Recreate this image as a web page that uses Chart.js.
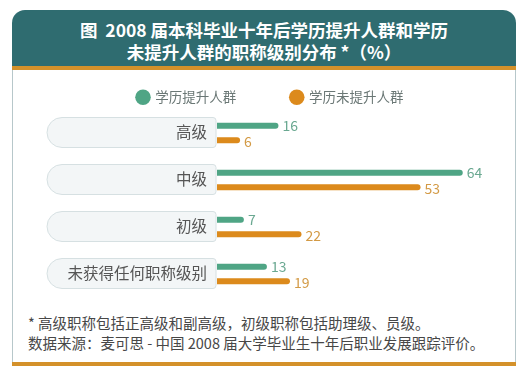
<!DOCTYPE html>
<html>
<head>
<meta charset="utf-8">
<script src="https://cdn.jsdelivr.net/npm/chart.js@4"></script>
<style>
  html,body{margin:0;padding:0;background:#ffffff;}
  body{width:529px;height:377px;position:relative;overflow:hidden;font-family:"Noto Sans CJK SC","Noto Sans",sans-serif;}
  .abs{position:absolute;}
  #hdr{left:12px;top:10px;width:504px;height:56px;background:#2f6c70;border-radius:13px 13px 0 0;}
  #hline{left:12px;top:66px;width:504px;height:4px;background:#d4912a;}
  #bodybox{left:12px;top:70px;width:502px;height:292px;border-left:1px solid #b7c7ca;border-right:1px solid #b7c7ca;}
  #bline{left:12px;top:362px;width:504px;height:4px;background:#d4912a;}
  .title{left:12px;width:504px;text-align:center;color:#ffffff;font-weight:bold;font-size:17.5px;line-height:22px;white-space:pre;}
  .note{left:28px;color:#474747;font-size:14.5px;line-height:20px;white-space:pre;}
  canvas{position:absolute;left:0;top:0;}
</style>
</head>
<body>
<div id="hdr" class="abs"></div>
<div id="hline" class="abs"></div>
<div id="bodybox" class="abs"></div>
<div id="bline" class="abs"></div>
<div class="abs title" style="top:19px;">图  2008 届本科毕业十年后学历提升人群和学历</div>
<div class="abs title" style="top:41px;">未提升人群的职称级别分布 *（%）</div>
<div class="abs note" style="top:313px;">* 高级职称包括正高级和副高级，初级职称包括助理级、员级。</div>
<div class="abs note" style="top:333px;">数据来源：麦可思 - 中国 2008 届大学毕业生十年后职业发展跟踪评价。</div>
<canvas id="c" width="529" height="377"></canvas>
<script>
const categories = ['高级', '中级', '初级', '未获得任何职称级别'];
const seriesNames = ['学历提升人群', '学历未提升人群'];
const improved = [16, 64, 7, 13];
const notImproved = [6, 53, 22, 19];

const barColors = ['#4fa585', '#dc8a1c'];
const labelColors = ['#6aa891', '#d39a45'];

const pillPlugin = {
  id: 'pills',
  beforeDatasetsDraw(chart) {
    const ctx = chart.ctx;
    const y = chart.scales.y;
    const right = chart.chartArea.left - 1;
    const left = 47;
    const h = 30;
    ctx.save();
    categories.forEach((c, i) => {
      const cy = y.getPixelForValue(i) - 0.5;
      const top = cy - h / 2;
      const r = h / 2;
      ctx.beginPath();
      ctx.moveTo(left + r, top);
      ctx.lineTo(right - 3, top);
      ctx.quadraticCurveTo(right, top, right, top + 3);
      ctx.lineTo(right, top + h - 3);
      ctx.quadraticCurveTo(right, top + h, right - 3, top + h);
      ctx.lineTo(left + r, top + h);
      ctx.arc(left + r, cy, r, Math.PI / 2, Math.PI * 1.5);
      ctx.closePath();
      ctx.fillStyle = '#f3f6f7';
      ctx.fill();
      ctx.lineWidth = 1;
      ctx.strokeStyle = '#d6e0e2';
      ctx.stroke();
      ctx.fillStyle = '#555555';
      ctx.font = '15.5px "Noto Sans CJK SC", sans-serif';
      ctx.textAlign = 'right';
      ctx.textBaseline = 'middle';
      ctx.fillText(c, right - 9, cy);
    });
    ctx.restore();
  },
  afterDatasetsDraw(chart) {
    const ctx = chart.ctx;
    ctx.save();
    ctx.font = '14px "Noto Sans CJK SC", sans-serif';
    ctx.textAlign = 'left';
    ctx.textBaseline = 'middle';
    chart.data.datasets.forEach((ds, di) => {
      const meta = chart.getDatasetMeta(di);
      meta.data.forEach((el, i) => {
        ctx.fillStyle = labelColors[di];
        ctx.fillText(String(ds.data[i]), el.x + 4, el.y + (di === 1 ? 1.5 : 0));
      });
    });
    ctx.restore();
  }
};

new Chart(document.getElementById('c'), {
  type: 'bar',
  data: {
    labels: categories,
    datasets: [
      { label: seriesNames[0], data: improved, backgroundColor: barColors[0], borderColor: barColors[0] },
      { label: seriesNames[1], data: notImproved, backgroundColor: barColors[1], borderColor: barColors[1] }
    ]
  },
  options: {
    responsive: false,
    animation: false,
    indexAxis: 'y',
    layout: { padding: { left: 55.2, right: 43.2, top: 35.5, bottom: 79.5 } },
    datasets: {
      bar: {
        maxBarThickness: 6,
        categoryPercentage: 0.62,
        barPercentage: 0.42,
        borderRadius: 3,
        borderSkipped: 'start'
      }
    },
    scales: {
      x: { display: false, min: 0, max: 70 },
      y: {
        display: true,
        grid: { display: false },
        border: { display: false },
        ticks: { display: false },
        afterFit(s) { s.width = 161.8; }
      }
    },
    plugins: {
      tooltip: { enabled: false },
      legend: {
        display: true,
        position: 'top',
        maxHeight: 74,
        labels: {
          usePointStyle: true,
          pointStyle: 'circle',
          boxWidth: 11,
          boxHeight: 11,
          padding: 55,
          color: '#6a7775',
          font: { size: 13.5, family: '"Noto Sans CJK SC", sans-serif' }
        }
      }
    }
  },
  plugins: [pillPlugin]
});
</script>
</body>
</html>
